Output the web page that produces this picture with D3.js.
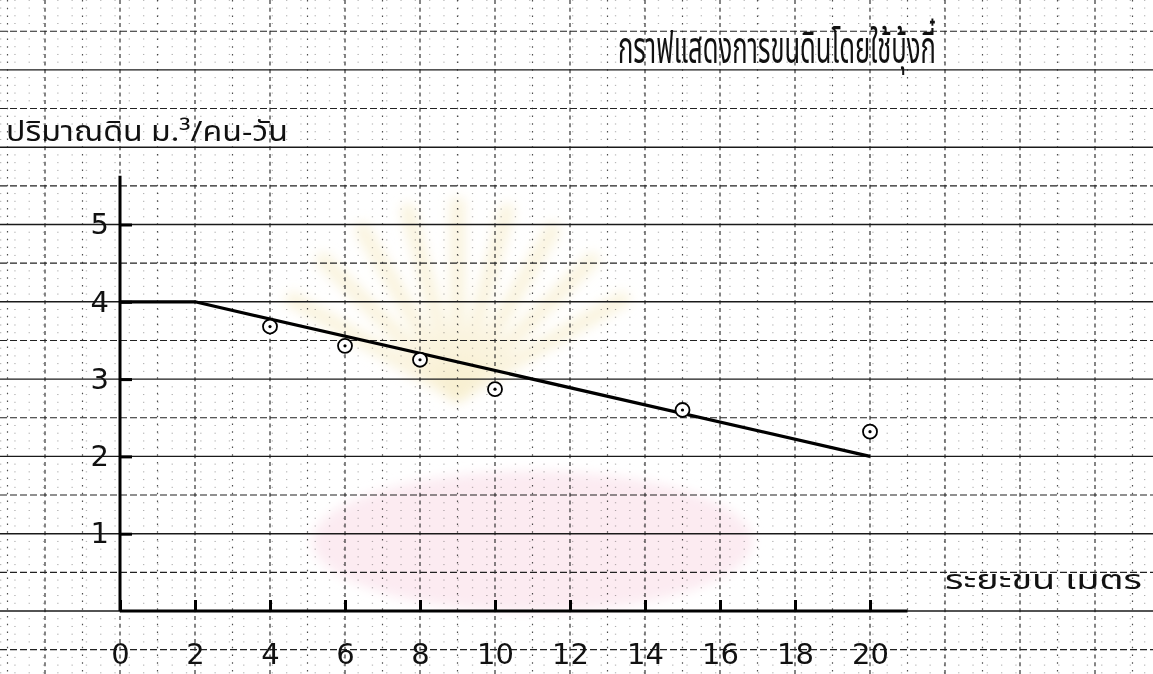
<!DOCTYPE html>
<html>
<head>
<meta charset="utf-8">
<script src="https://cdn.jsdelivr.net/npm/d3@7"></script>
<style>
  html, body { margin: 0; padding: 0; background: #fff; }
  svg { display: block; }
  .hand { font-family: "Noto Sans Thai", "Noto Sans", "DejaVu Sans", sans-serif; fill: #111; }
  .num { font-family: "DejaVu Sans", "Liberation Sans", sans-serif; fill: #111; }
</style>
</head>
<body>
<div id="chart"></div>
<script>
// chart text
const title = "กราฟแสดงการขนดินโดยใช้บุ้งกี๋";
const yTitle = "ปริมาณดิน ม.³/คน-วัน";
const xTitle = "ระยะขน เมตร";

// tick labels
const xTicks = [0, 2, 4, 6, 8, 10, 12, 14, 16, 18, 20];
const yTicks = [1, 2, 3, 4, 5];

// fitted line (hand drawn)
const lineX = [0, 2, 20];
const lineY = [4, 4, 2];

// measured points
const pointX = [4, 6, 8, 10, 15, 20];
const pointY = [3.68, 3.43, 3.25, 2.87, 2.60, 2.32];

const width = 1153, height = 674;

const svg = d3.select("#chart")
  .append("svg")
  .attr("width", width)
  .attr("height", height);

const x = d3.scaleLinear().domain([0, 20]).range([120, 870]);
const y = d3.scaleLinear().domain([0, 5]).range([611, 224.5]);

// faint watermark
const defs = svg.append("defs");
defs.append("filter").attr("id", "soft")
  .append("feGaussianBlur").attr("stdDeviation", 6);

const wm = svg.append("g").attr("filter", "url(#soft)");
wm.append("ellipse")
  .attr("cx", x(11)).attr("cy", y(0.9))
  .attr("rx", 220).attr("ry", 70)
  .attr("fill", "#fbe6ee")
  .attr("opacity", 0.8);
d3.range(-60, 61, 15).forEach(a => {
  const r = a * Math.PI / 180;
  wm.append("line")
    .attr("x1", x(9)).attr("y1", y(2.8))
    .attr("x2", x(9) + Math.sin(r) * 190).attr("y2", y(2.8) - Math.cos(r) * 190)
    .attr("stroke", "#f8f0d2")
    .attr("stroke-width", 16)
    .attr("stroke-linecap", "round")
    .attr("opacity", 0.7);
});

// graph paper
const grid = svg.append("g");

// 1 mm rows, only dots survive the scan
grid.selectAll(".minorH")
  .data(d3.range(-10, 81).filter(v => v % 5 != 0).map(v => v / 10))
  .enter().append("line")
  .attr("x1", 0).attr("x2", width)
  .attr("y1", d => y(d)).attr("y2", d => y(d))
  .attr("stroke", "#333")
  .attr("stroke-width", 1)
  .attr("stroke-dasharray", "1.3,13")
  .attr("opacity", 0.4);

// vertical lines every unit (dotted)
grid.selectAll(".vOdd")
  .data(d3.range(-3, 29, 2))
  .enter().append("line")
  .attr("x1", d => x(d)).attr("x2", d => x(d))
  .attr("y1", 0).attr("y2", height)
  .attr("stroke", "#222")
  .attr("stroke-width", 1.2)
  .attr("stroke-dasharray", "1.5,6.2")
  .attr("opacity", 0.8);

// vertical lines every two units (dashed)
grid.selectAll(".vEven")
  .data(d3.range(-2, 29, 2))
  .enter().append("line")
  .attr("x1", d => x(d)).attr("x2", d => x(d))
  .attr("y1", 0).attr("y2", height)
  .attr("stroke", "#222")
  .attr("stroke-width", 1.1)
  .attr("stroke-dasharray", "4,3.7");

// horizontal half lines (dashed)
grid.selectAll(".hHalf")
  .data(d3.range(-1, 8).map(v => v + 0.5))
  .enter().append("line")
  .attr("x1", 0).attr("x2", width)
  .attr("y1", d => y(d)).attr("y2", d => y(d))
  .attr("stroke", "#222")
  .attr("stroke-width", 1.1)
  .attr("stroke-dasharray", "7,3");

// horizontal unit lines (solid)
grid.selectAll(".hMajor")
  .data(d3.range(-1, 9))
  .enter().append("line")
  .attr("x1", 0).attr("x2", width)
  .attr("y1", d => y(d)).attr("y2", d => y(d))
  .attr("stroke", "#1a1a1a")
  .attr("stroke-width", 1.4);

// axes
svg.append("line")
  .attr("x1", x(0)).attr("x2", x(0))
  .attr("y1", y(0)).attr("y2", y(5.63))
  .attr("stroke", "#000").attr("stroke-width", 3);
svg.append("line")
  .attr("x1", x(0)).attr("x2", x(21))
  .attr("y1", y(0)).attr("y2", y(0))
  .attr("stroke", "#000").attr("stroke-width", 3);

const xAxis = d3.axisBottom(x)
  .tickValues(xTicks)
  .tickSize(-11)
  .tickPadding(32)
  .tickFormat(d => d);

const gx = svg.append("g")
  .attr("transform", `translate(0, ${y(0)})`)
  .call(xAxis);

const yAxis = d3.axisLeft(y)
  .tickValues(yTicks)
  .tickSize(-12)
  .tickPadding(11)
  .tickFormat(d => d);

const gy = svg.append("g")
  .attr("transform", `translate(${x(0)}, 0)`)
  .call(yAxis);

[gx, gy].forEach(g => {
  g.select(".domain").remove();
  g.selectAll(".tick line").attr("stroke", "#000").attr("stroke-width", 3);
  g.selectAll(".tick text")
    .attr("class", "num")
    .attr("fill", "#111")
    .style("font-size", "29px");
});

// fitted line
const line = d3.line()
  .x(d => x(d[0]))
  .y(d => y(d[1]));

svg.append("path")
  .datum(d3.zip(lineX, lineY))
  .attr("d", line)
  .attr("fill", "none")
  .attr("stroke", "#000")
  .attr("stroke-width", 3.2)
  .attr("stroke-linejoin", "round");

// points: circle with a dot inside
const pts = svg.selectAll(".pt")
  .data(d3.zip(pointX, pointY))
  .enter().append("g")
  .attr("transform", d => `translate(${x(d[0])}, ${y(d[1])})`);

pts.append("circle")
  .attr("r", 7)
  .attr("fill", "#fff")
  .attr("stroke", "#000")
  .attr("stroke-width", 1.8);

pts.append("circle")
  .attr("r", 1.6)
  .attr("fill", "#000");

// handwritten labels are narrow: squeeze each to the width seen in the scan
function handText(str, left, base, size, w) {
  const t = svg.append("text")
    .attr("class", "hand")
    .style("font-size", size + "px")
    .text(str);
  const natural = t.node().getComputedTextLength();
  t.attr("transform", `translate(${left}, ${base}) scale(${w / natural}, 1)`);
  return t;
}

handText(title, 618, 63, 44, 318);
handText(yTitle, 6, 141, 28, 282);
handText(xTitle, 945, 589, 26, 197);
</script>
</body>
</html>
